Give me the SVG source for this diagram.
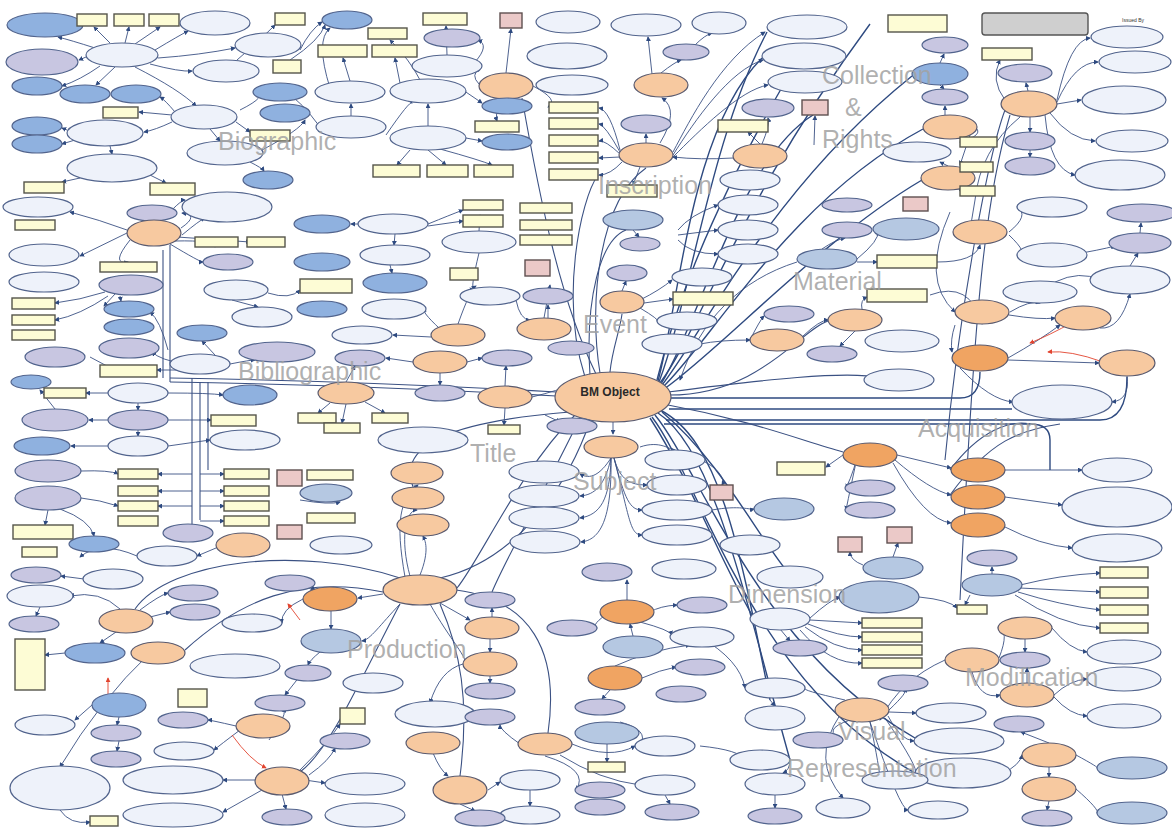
<svg xmlns="http://www.w3.org/2000/svg" width="1172" height="828" viewBox="0 0 1172 828">
<style>
.l{fill:#eef2fa;stroke:#52648d;stroke-width:1.2}
.o{fill:#f7c9a0;stroke:#5a5a6e;stroke-width:1.2}
.od{fill:#f0a462;stroke:#5a5a6e;stroke-width:1.2}
.p{fill:#c8c6e1;stroke:#52648d;stroke-width:1.2}
.b{fill:#8fb1df;stroke:#52648d;stroke-width:1.2}
.bg{fill:#b5c8e2;stroke:#52648d;stroke-width:1.2}
.y{fill:#fdfcd5;stroke:#55554a;stroke-width:1.4}
.k{fill:#ebc9c8;stroke:#5f5050;stroke-width:1.4}
.g{fill:#cfcfcf;stroke:#555;stroke-width:1.4}
.e{fill:none;stroke:#3b5183;stroke-width:0.9;marker-end:url(#a)}
.t{fill:none;stroke:#2e4a80;stroke-width:1.4}
.f{fill:none;stroke:#3b5183;stroke-width:1.1}
.r{fill:none;stroke:#e2442f;stroke-width:0.9;marker-end:url(#ar)}
.s{font-family:"Liberation Sans",Arial,sans-serif;font-size:25px;fill:#a2a2a2;fill-opacity:0.85}
</style>
<defs>
<marker id="a" viewBox="0 0 6 6" refX="5" refY="3" markerWidth="5" markerHeight="5" orient="auto" markerUnits="userSpaceOnUse"><path d="M0,0L6,3L0,6z" fill="#2e4a80"/></marker>
<marker id="ar" viewBox="0 0 6 6" refX="5" refY="3" markerWidth="5" markerHeight="5" orient="auto" markerUnits="userSpaceOnUse"><path d="M0,0L6,3L0,6z" fill="#e2442f"/></marker>
</defs>
<rect width="1172" height="828" fill="#ffffff"/>
<g id="connectors">
<path class="t" d="M660,383 C700,330 740,200 870,24"/>
<path class="t" d="M662,385 C705,330 770,190 912,76"/>
<path class="t" d="M663,387 C712,340 790,200 923,129"/>
<path class="t" d="M661,384 C700,320 740,160 813,115"/>
<path class="t" d="M659,382 C690,300 710,140 767,32"/>
<path class="t" d="M658,381 C680,300 690,130 762,58"/>
<path class="t" d="M657,380 C672,320 700,230 785,82"/>
<path class="t" d="M664,389 C720,350 820,240 922,180"/>
<path class="f" d="M600,373 C588,300 600,200 646,168"/>
<path class="f" d="M596,374 C560,300 540,200 522,98"/>
<path class="f" d="M610,372 C612,350 620,330 622,314"/>
<path class="f" d="M590,375 C585,300 600,240 626,230"/>
<path class="f" d="M585,377 C560,300 580,200 598,175"/>
<path class="f" d="M556,392 C450,386 300,380 170,378"/>
<path class="f" d="M556,396 C450,390 300,384 170,382"/>
<path class="f" d="M170,245 V382"/>
<path class="f" d="M163,250 V378"/>
<path class="f" d="M192,378 V525"/>
<path class="f" d="M200,382 V520"/>
<path class="f" d="M208,382 V470"/>
<path class="t" d="M671,398 H960 Q980,398 980,372"/>
<path class="t" d="M669,409 H1012"/>
<path class="t" d="M666,420 H1100 Q1127,420 1127,377"/>
<path class="t" d="M664,424 H1030 Q1050,424 1050,440 V470"/>
<path class="f" d="M668,405 C750,420 800,440 843,452"/>
<path class="f" d="M668,392 C760,380 850,370 880,378"/>
<path class="f" d="M669,395 C760,395 800,330 828,321"/>
<path class="t" d="M660,410 C720,440 740,550 770,700"/>
<path class="t" d="M658,413 C715,450 745,600 790,760"/>
<path class="t" d="M655,415 C700,470 760,650 915,738"/>
<path class="t" d="M652,417 C700,480 750,680 915,773"/>
<path class="t" d="M650,418 C690,480 720,560 752,615"/>
<path class="t" d="M662,412 C720,460 760,540 790,575"/>
<path class="f" d="M575,415 C520,470 480,560 457,588"/>
<path class="f" d="M580,418 C540,500 505,560 492,592"/>
<path class="f" d="M590,421 C570,480 520,560 440,578"/>
<path class="e" d="M613,422 V434"/>
<path class="f" d="M570,412 C470,420 380,440 420,500"/>
<path class="e" d="M611,458 C600,475 590,480 580,474"/>
<path class="e" d="M611,458 C605,485 595,495 580,496"/>
<path class="e" d="M611,458 C610,500 600,515 580,518"/>
<path class="e" d="M611,458 C612,520 600,540 581,542"/>
<path class="e" d="M614,458 C620,480 630,485 647,485"/>
<path class="e" d="M614,458 C625,500 630,510 642,510"/>
<path class="e" d="M614,458 C630,520 630,535 642,535"/>
<path class="e" d="M640,447 C660,440 670,450 675,450"/>
<path class="e" d="M705,462 C720,470 725,480 722,485"/>
<path class="e" d="M712,510 C740,505 750,510 754,509"/>
<path class="e" d="M95,48 Q70,40 58,37"/>
<path class="e" d="M110,43 L94,27"/>
<path class="e" d="M125,43 L129,27"/>
<path class="e" d="M135,44 L160,27"/>
<path class="e" d="M155,50 Q180,35 188,31"/>
<path class="e" d="M158,58 Q200,55 235,48"/>
<path class="e" d="M150,64 Q180,72 192,71"/>
<path class="e" d="M86,57 L79,60"/>
<path class="e" d="M100,66 Q80,80 62,86"/>
<path class="e" d="M115,67 L96,85"/>
<path class="e" d="M135,67 Q180,90 196,106"/>
<path class="e" d="M175,112 Q165,100 160,97"/>
<path class="e" d="M172,115 L139,112"/>
<path class="e" d="M172,122 Q155,130 144,132"/>
<path class="e" d="M210,129 L220,141"/>
<path class="e" d="M236,122 L250,132"/>
<path class="e" d="M67,130 L62,128"/>
<path class="e" d="M75,140 L62,144"/>
<path class="e" d="M110,146 L112,154"/>
<path class="e" d="M80,178 L62,182"/>
<path class="e" d="M150,175 L166,183"/>
<path class="e" d="M250,162 Q262,168 264,171"/>
<path class="e" d="M262,150 Q300,130 305,120"/>
<path class="e" d="M237,60 Q260,40 275,25"/>
<path class="e" d="M290,60 Q320,40 325,25"/>
<path class="e" d="M300,50 Q310,30 322,22"/>
<path class="e" d="M240,110 Q270,95 254,92"/>
<path class="e" d="M351,116 L351,104"/>
<path class="e" d="M428,126 L428,104"/>
<path class="e" d="M350,81 L343,58"/>
<path class="e" d="M400,83 L395,58"/>
<path class="e" d="M420,80 Q410,60 390,40"/>
<path class="e" d="M410,150 L397,165"/>
<path class="e" d="M428,150 L446,165"/>
<path class="e" d="M440,149 Q480,160 492,165"/>
<path class="e" d="M466,138 L482,141"/>
<path class="e" d="M460,88 L482,103"/>
<path class="e" d="M386,135 Q410,100 412,103"/>
<path class="e" d="M320,127 Q300,100 290,96"/>
<path class="e" d="M330,88 Q315,40 330,28"/>
<path class="e" d="M447,55 L446,26"/>
<path class="e" d="M475,62 Q490,45 478,40"/>
<path class="e" d="M506,73 L511,29"/>
<path class="e" d="M479,84 Q470,75 480,68"/>
<path class="e" d="M500,99 Q495,115 497,121"/>
<path class="e" d="M533,86 Q560,100 548,107"/>
<path class="e" d="M646,143 L646,134"/>
<path class="e" d="M620,150 Q610,110 599,108"/>
<path class="e" d="M620,152 Q605,125 599,124"/>
<path class="e" d="M620,154 Q605,140 599,141"/>
<path class="e" d="M620,157 L599,158"/>
<path class="e" d="M622,162 Q610,175 599,175"/>
<path class="e" d="M640,167 L633,185"/>
<path class="e" d="M660,143 Q680,110 662,98"/>
<path class="e" d="M661,73 Q675,62 681,60"/>
<path class="e" d="M652,74 L648,37"/>
<path class="e" d="M695,45 Q705,35 712,33"/>
<path class="e" d="M673,152 C690,120 720,60 765,32"/>
<path class="e" d="M673,155 C695,120 730,70 763,60"/>
<path class="e" d="M673,157 C700,130 740,90 768,85"/>
<path class="e" d="M760,144 L748,132"/>
<path class="e" d="M762,144 Q770,125 768,118"/>
<path class="e" d="M733,158 Q700,160 673,157"/>
<path class="e" d="M814,145 L815,116"/>
<path class="e" d="M945,115 L945,106"/>
<path class="e" d="M940,63 L944,54"/>
<path class="e" d="M940,85 L944,89"/>
<path class="e" d="M975,127 Q985,135 960,142"/>
<path class="e" d="M970,135 L960,165"/>
<path class="e" d="M960,183 L960,191"/>
<path class="e" d="M948,166 L940,162"/>
<path class="e" d="M1028,91 L1026,83"/>
<path class="e" d="M1057,100 Q1070,40 1090,38"/>
<path class="e" d="M1057,102 Q1075,62 1098,62"/>
<path class="e" d="M1057,104 L1081,100"/>
<path class="e" d="M1050,113 Q1070,140 1095,141"/>
<path class="e" d="M1045,115 Q1050,170 1075,175"/>
<path class="e" d="M1030,117 L1030,132"/>
<path class="e" d="M1030,150 L1030,157"/>
<path class="e" d="M1020,117 Q980,150 975,200 L970,230"/>
<path class="f" d="M1005,110 C990,150 960,300 945,460"/>
<path class="f" d="M1010,115 C985,200 975,300 960,600"/>
<path class="e" d="M1005,100 Q990,80 1000,60"/>
<path class="e" d="M633,230 L639,237"/>
<path class="e" d="M678,230 Q690,215 718,205"/>
<path class="e" d="M678,235 L718,230"/>
<path class="e" d="M678,240 Q690,254 718,254"/>
<path class="e" d="M822,249 Q835,240 845,238"/>
<path class="e" d="M857,259 Q880,240 878,231"/>
<path class="e" d="M857,262 L877,262"/>
<path class="e" d="M937,262 Q975,262 980,245"/>
<path class="e" d="M797,262 C740,280 700,320 680,380"/>
<path class="e" d="M622,291 L626,281"/>
<path class="e" d="M640,300 Q660,290 672,280"/>
<path class="e" d="M644,303 L673,299"/>
<path class="e" d="M640,308 Q660,320 657,321"/>
<path class="e" d="M750,340 Q760,320 764,316"/>
<path class="e" d="M803,336 Q820,320 828,320"/>
<path class="e" d="M862,309 Q860,300 867,297"/>
<path class="e" d="M855,331 L840,346"/>
<path class="e" d="M930,295 Q970,280 982,324"/>
<path class="e" d="M700,344 Q720,340 750,340"/>
<path class="e" d="M1009,232 Q1030,215 1017,207"/>
<path class="e" d="M1009,235 Q1030,255 1017,255"/>
<path class="e" d="M1070,255 Q1100,250 1115,246"/>
<path class="e" d="M1140,233 L1141,223"/>
<path class="e" d="M1130,266 L1138,253"/>
<path class="e" d="M1055,282 Q1080,270 1100,280"/>
<path class="e" d="M1010,312 Q1030,300 1040,303"/>
<path class="e" d="M1009,315 Q1040,320 1055,318"/>
<path class="e" d="M1100,328 Q1120,330 1130,294"/>
<path class="e" d="M1008,358 Q1040,340 1060,325"/>
<path class="e" d="M1008,360 L1099,363"/>
<path class="e" d="M1127,376 Q1130,400 1112,402"/>
<path class="e" d="M960,368 Q990,400 1013,402"/>
<path class="e" d="M955,325 Q950,340 952,352"/>
<path class="e" d="M950,212 Q920,280 955,312"/>
<path class="r" d="M1073,322 Q1050,335 1030,343"/>
<path class="r" d="M1103,362 Q1070,350 1048,352"/>
<path class="e" d="M897,455 L951,468"/>
<path class="e" d="M895,460 Q930,490 951,495"/>
<path class="e" d="M893,463 Q925,520 951,523"/>
<path class="e" d="M1005,470 L1082,470"/>
<path class="e" d="M1005,497 L1062,505"/>
<path class="e" d="M1005,527 Q1040,545 1072,548"/>
<path class="e" d="M860,444 Q855,470 846,488"/>
<path class="e" d="M860,444 Q850,490 846,510"/>
<path class="e" d="M843,455 L826,467"/>
<path class="f" d="M950,470 C980,430 1010,420 1030,424"/>
<path class="f" d="M950,495 C990,440 1020,430 1060,424"/>
<path class="e" d="M992,574 L992,567"/>
<path class="e" d="M1020,585 Q1060,575 1100,573"/>
<path class="e" d="M1020,588 L1100,592"/>
<path class="e" d="M1018,592 Q1060,605 1100,610"/>
<path class="e" d="M1015,595 Q1060,625 1100,628"/>
<path class="e" d="M970,595 L965,605"/>
<path class="e" d="M893,557 L898,543"/>
<path class="e" d="M863,565 Q850,560 850,552"/>
<path class="e" d="M810,618 Q830,600 840,597"/>
<path class="e" d="M810,620 L862,623"/>
<path class="e" d="M808,624 Q840,637 862,637"/>
<path class="e" d="M805,627 Q835,650 862,650"/>
<path class="e" d="M800,630 Q830,665 862,663"/>
<path class="e" d="M780,629 L790,641"/>
<path class="e" d="M919,597 Q950,600 957,608"/>
<path class="e" d="M1025,639 L1025,652"/>
<path class="e" d="M999,658 Q1010,630 998,628"/>
<path class="e" d="M1052,628 Q1070,650 1087,652"/>
<path class="e" d="M1054,695 Q1070,680 1087,679"/>
<path class="e" d="M1054,697 Q1070,715 1087,716"/>
<path class="e" d="M1027,683 L1027,668"/>
<path class="e" d="M972,672 Q980,700 1000,695"/>
<path class="e" d="M945,660 Q900,680 880,720"/>
<path class="e" d="M1049,767 L1049,777"/>
<path class="e" d="M1076,755 Q1100,768 1097,768"/>
<path class="e" d="M1076,789 Q1100,810 1097,813"/>
<path class="e" d="M1049,801 L1047,810"/>
<path class="e" d="M1049,743 L1021,732"/>
<path class="e" d="M1003,773 Q1020,765 1022,755"/>
<path class="e" d="M889,710 Q910,690 903,691"/>
<path class="e" d="M889,712 L916,713"/>
<path class="e" d="M888,716 Q900,740 914,741"/>
<path class="e" d="M885,718 Q920,770 915,773"/>
<path class="e" d="M870,722 Q880,770 880,780"/>
<path class="e" d="M850,720 Q820,730 843,740"/>
<path class="e" d="M840,715 Q810,760 843,798"/>
<path class="e" d="M870,722 Q900,810 908,810"/>
<path class="e" d="M845,700 Q800,690 805,688"/>
<path class="e" d="M770,700 L775,706"/>
<path class="e" d="M790,760 Q790,770 783,773"/>
<path class="e" d="M775,795 L775,808"/>
<path class="f" d="M400,578 C300,545 170,560 135,609"/>
<path class="f" d="M383,592 C300,575 240,600 185,650"/>
<path class="e" d="M383,594 L358,598"/>
<path class="e" d="M400,604 C380,625 370,640 362,641"/>
<path class="f" d="M400,604 C360,680 330,750 300,772"/>
<path class="f" d="M440,604 C460,650 470,700 460,776"/>
<path class="f" d="M456,590 C530,600 560,650 548,733"/>
<path class="e" d="M440,603 L470,620"/>
<path class="e" d="M430,604 C450,640 470,660 464,664"/>
<path class="e" d="M410,576 C400,540 405,510 417,510"/>
<path class="e" d="M405,577 C395,520 400,500 418,485"/>
<path class="e" d="M420,575 C430,550 425,540 423,536"/>
<path class="e" d="M490,639 L490,652"/>
<path class="e" d="M490,676 L490,683"/>
<path class="e" d="M463,664 Q440,670 430,703"/>
<path class="e" d="M492,617 L492,608"/>
<path class="e" d="M650,612 Q660,606 677,605"/>
<path class="e" d="M627,600 L627,580"/>
<path class="e" d="M640,622 Q670,630 672,635"/>
<path class="e" d="M610,612 Q590,625 597,628"/>
<path class="e" d="M633,636 L630,624"/>
<path class="e" d="M642,678 Q660,670 676,667"/>
<path class="e" d="M615,666 Q650,650 690,645"/>
<path class="e" d="M610,690 L602,699"/>
<path class="e" d="M607,744 L607,762"/>
<path class="e" d="M620,722 Q650,730 640,745"/>
<path class="e" d="M572,744 Q610,760 635,746"/>
<path class="e" d="M520,744 Q500,730 500,725"/>
<path class="e" d="M545,756 Q590,770 576,790"/>
<path class="e" d="M560,755 Q600,780 640,785"/>
<path class="e" d="M530,790 L530,806"/>
<path class="e" d="M433,753 Q440,770 448,776"/>
<path class="e" d="M460,804 L475,811"/>
<path class="e" d="M488,790 L500,782"/>
<path class="e" d="M665,795 L670,804"/>
<path class="e" d="M700,746 Q740,750 745,760"/>
<path class="e" d="M700,637 Q740,660 745,688"/>
<path class="e" d="M181,228 Q200,215 182,213"/>
<path class="e" d="M182,235 Q200,220 205,218"/>
<path class="e" d="M127,233 L80,256"/>
<path class="e" d="M130,240 Q110,265 128,262"/>
<path class="e" d="M170,244 Q200,262 203,262"/>
<path class="e" d="M175,241 Q215,240 215,247"/>
<path class="e" d="M177,237 L250,242"/>
<path class="e" d="M127,230 Q100,220 70,212"/>
<path class="e" d="M160,223 Q180,200 185,200"/>
<path class="e" d="M105,292 Q80,300 55,303"/>
<path class="e" d="M108,296 Q80,315 55,320"/>
<path class="e" d="M115,294 L104,306"/>
<path class="e" d="M120,296 L121,301"/>
<path class="e" d="M268,293 Q290,300 300,290"/>
<path class="e" d="M232,300 L258,307"/>
<path class="e" d="M185,364 Q160,360 152,352"/>
<path class="e" d="M178,370 L157,370"/>
<path class="e" d="M230,364 Q250,360 255,360"/>
<path class="e" d="M215,355 L202,341"/>
<path class="e" d="M168,350 Q160,320 150,312"/>
<path class="e" d="M110,393 L86,393"/>
<path class="e" d="M168,393 Q210,393 223,395"/>
<path class="e" d="M138,403 L138,410"/>
<path class="e" d="M168,420 Q190,420 211,420"/>
<path class="e" d="M138,430 L138,436"/>
<path class="e" d="M108,420 L89,420"/>
<path class="e" d="M108,446 L71,446"/>
<path class="e" d="M168,446 L210,440"/>
<path class="e" d="M55,409 L40,390"/>
<path class="e" d="M90,357 L120,373"/>
<path class="e" d="M428,224 Q450,215 463,210"/>
<path class="e" d="M428,226 L463,221"/>
<path class="e" d="M395,234 L394,245"/>
<path class="e" d="M365,224 L351,224"/>
<path class="e" d="M390,265 L392,273"/>
<path class="e" d="M479,253 Q470,290 474,288"/>
<path class="e" d="M479,231 L480,215"/>
<path class="e" d="M516,300 Q520,320 530,320"/>
<path class="e" d="M548,318 L548,305"/>
<path class="e" d="M440,329 Q420,310 426,311"/>
<path class="e" d="M431,337 L393,335"/>
<path class="e" d="M458,324 Q470,290 476,286"/>
<path class="e" d="M440,351 L440,358"/>
<path class="e" d="M467,362 L482,358"/>
<path class="e" d="M413,362 L386,358"/>
<path class="e" d="M346,382 L355,366"/>
<path class="e" d="M440,373 L440,385"/>
<path class="e" d="M505,386 L506,366"/>
<path class="e" d="M330,403 L318,413"/>
<path class="e" d="M346,404 L342,423"/>
<path class="e" d="M365,402 L385,413"/>
<path class="e" d="M505,408 L504,425"/>
<path class="e" d="M532,397 Q560,390 570,385"/>
<path class="e" d="M545,415 L560,422"/>
<path class="e" d="M544,318 L550,285"/>
<path class="e" d="M81,471 Q110,470 118,474"/>
<path class="e" d="M81,498 Q100,500 118,506"/>
<path class="e" d="M192,474 L158,474"/>
<path class="e" d="M192,491 L158,491"/>
<path class="e" d="M192,506 L158,506"/>
<path class="e" d="M200,474 L224,474"/>
<path class="e" d="M200,491 L224,491"/>
<path class="e" d="M200,506 L224,506"/>
<path class="e" d="M200,521 L224,521"/>
<path class="e" d="M48,510 L45,525"/>
<path class="e" d="M60,509 Q90,520 94,536"/>
<path class="e" d="M216,548 L197,556"/>
<path class="e" d="M137,556 Q100,540 80,557"/>
<path class="e" d="M84,579 L61,576"/>
<path class="e" d="M40,607 L36,616"/>
<path class="e" d="M140,610 Q160,595 168,593"/>
<path class="e" d="M150,617 L170,612"/>
<path class="e" d="M120,609 Q100,590 70,596"/>
<path class="e" d="M116,632 L100,643"/>
<path class="e" d="M65,653 L45,655"/>
<path class="e" d="M269,740 Q290,710 282,711"/>
<path class="e" d="M305,583 L315,590"/>
<path class="e" d="M331,611 L331,629"/>
<path class="e" d="M320,652 Q310,660 308,665"/>
<path class="e" d="M300,676 L285,695"/>
<path class="e" d="M303,599 Q280,610 282,623"/>
<path class="e" d="M119,717 L117,725"/>
<path class="e" d="M119,741 L117,751"/>
<path class="e" d="M92,705 L75,720"/>
<path class="e" d="M236,726 Q210,720 208,720"/>
<path class="e" d="M240,730 Q220,745 214,750"/>
<path class="e" d="M255,780 L223,780"/>
<path class="e" d="M262,790 L223,812"/>
<path class="e" d="M282,794 L286,809"/>
<path class="e" d="M60,810 Q70,825 90,822"/>
<path class="e" d="M150,653 Q100,700 60,767"/>
<path class="e" d="M305,780 L325,783"/>
<path class="e" d="M309,775 Q330,760 335,748"/>
<path class="e" d="M300,770 Q330,740 340,724"/>
<path class="e" d="M343,683 L360,690"/>
<path class="e" d="M300,500 Q330,505 340,502"/>
<path class="r" d="M300,620 L288,604"/>
<path class="r" d="M108,700 L108,678"/>
<path class="r" d="M232,735 Q250,760 266,768"/>
</g>

<g id="n0"><ellipse class="o" cx="613" cy="397" rx="58" ry="25"/><text x="610" y="396" font-family="Liberation Sans,Arial,sans-serif" font-size="12" font-weight="bold" text-anchor="middle" fill="#2a2a2a">BM Object</text></g>
<g id="n1"><ellipse class="b" cx="45" cy="25" rx="38" ry="12"/></g>
<g id="n2"><rect class="y" x="77" y="14" width="30" height="12"/></g>
<g id="n3"><rect class="y" x="114" y="14" width="30" height="12"/></g>
<g id="n4"><rect class="y" x="149" y="14" width="30" height="12"/></g>
<g id="n5"><ellipse class="l" cx="215" cy="23" rx="35" ry="12"/></g>
<g id="n6"><ellipse class="l" cx="122" cy="55" rx="36" ry="12"/></g>
<g id="n7"><ellipse class="p" cx="42" cy="62" rx="36" ry="13"/></g>
<g id="n8"><ellipse class="l" cx="268" cy="45" rx="33" ry="12"/></g>
<g id="n9"><ellipse class="l" cx="226" cy="71" rx="33" ry="11"/></g>
<g id="n10"><ellipse class="b" cx="37" cy="86" rx="25" ry="9"/></g>
<g id="n11"><ellipse class="b" cx="85" cy="94" rx="25" ry="9"/></g>
<g id="n12"><ellipse class="b" cx="136" cy="94" rx="25" ry="9"/></g>
<g id="n13"><rect class="y" x="103" y="107" width="35" height="11"/></g>
<g id="n14"><ellipse class="l" cx="204" cy="117" rx="33" ry="12"/></g>
<g id="n15"><ellipse class="b" cx="37" cy="126" rx="25" ry="9"/></g>
<g id="n16"><ellipse class="l" cx="105" cy="133" rx="38" ry="13"/></g>
<g id="n17"><ellipse class="b" cx="37" cy="144" rx="25" ry="9"/></g>
<g id="n18"><ellipse class="l" cx="225" cy="153" rx="38" ry="12"/></g>
<g id="n19"><ellipse class="l" cx="112" cy="168" rx="45" ry="14"/></g>
<g id="n20"><rect class="y" x="250" y="130" width="40" height="11"/></g>
<g id="n21"><ellipse class="b" cx="268" cy="180" rx="25" ry="9"/></g>
<g id="n22"><rect class="y" x="24" y="182" width="40" height="11"/></g>
<g id="n23"><rect class="y" x="150" y="183" width="45" height="12"/></g>
<g id="n24"><rect class="y" x="275" y="13" width="30" height="12"/></g>
<g id="n25"><rect class="y" x="273" y="60" width="28" height="13"/></g>
<g id="n25b"><ellipse class="b" cx="280" cy="92" rx="27" ry="9"/></g>
<g id="n25c"><ellipse class="b" cx="285" cy="113" rx="25" ry="9"/></g>
<g id="n26"><ellipse class="b" cx="347" cy="20" rx="25" ry="9"/></g>
<g id="n27"><rect class="y" x="368" y="28" width="39" height="11"/></g>
<g id="n28"><rect class="y" x="423" y="13" width="44" height="12"/></g>
<g id="n29"><rect class="k" x="500" y="13" width="22" height="15"/></g>
<g id="n30"><ellipse class="p" cx="452" cy="38" rx="28" ry="9"/></g>
<g id="n31"><rect class="y" x="318" y="45" width="49" height="12"/></g>
<g id="n32"><rect class="y" x="372" y="45" width="45" height="12"/></g>
<g id="n33"><ellipse class="l" cx="447" cy="66" rx="35" ry="11"/></g>
<g id="n34"><ellipse class="o" cx="506" cy="86" rx="27" ry="13"/></g>
<g id="n35"><ellipse class="l" cx="350" cy="92" rx="35" ry="11"/></g>
<g id="n36"><ellipse class="l" cx="428" cy="91" rx="38" ry="12"/></g>
<g id="n37"><ellipse class="b" cx="507" cy="106" rx="25" ry="8"/></g>
<g id="n38"><rect class="y" x="475" y="121" width="44" height="11"/></g>
<g id="n39"><ellipse class="l" cx="351" cy="127" rx="35" ry="11"/></g>
<g id="n40"><ellipse class="l" cx="428" cy="138" rx="38" ry="12"/></g>
<g id="n41"><ellipse class="b" cx="507" cy="142" rx="25" ry="8"/></g>
<g id="n42"><rect class="y" x="373" y="165" width="47" height="12"/></g>
<g id="n43"><rect class="y" x="427" y="165" width="41" height="12"/></g>
<g id="n44"><rect class="y" x="474" y="165" width="39" height="12"/></g>
<g id="n45"><rect class="y" x="549" y="102" width="49" height="11"/></g>
<g id="n46"><rect class="y" x="549" y="118" width="49" height="11"/></g>
<g id="n47"><rect class="y" x="549" y="135" width="49" height="11"/></g>
<g id="n48"><rect class="y" x="549" y="152" width="49" height="11"/></g>
<g id="n49"><rect class="y" x="549" y="169" width="49" height="11"/></g>
<g id="n50"><ellipse class="l" cx="568" cy="22" rx="32" ry="11"/></g>
<g id="n51"><ellipse class="l" cx="567" cy="56" rx="40" ry="13"/></g>
<g id="n52"><ellipse class="l" cx="572" cy="85" rx="36" ry="10"/></g>
<g id="n53"><ellipse class="l" cx="646" cy="25" rx="35" ry="11"/></g>
<g id="n54"><ellipse class="l" cx="719" cy="23" rx="27" ry="11"/></g>
<g id="n55"><ellipse class="l" cx="807" cy="27" rx="40" ry="12"/></g>
<g id="n56"><ellipse class="p" cx="686" cy="52" rx="23" ry="8"/></g>
<g id="n57"><ellipse class="o" cx="661" cy="85" rx="27" ry="12"/></g>
<g id="n58"><ellipse class="l" cx="804" cy="56" rx="42" ry="13"/></g>
<g id="n59"><ellipse class="l" cx="805" cy="82" rx="37" ry="11"/></g>
<g id="n60"><rect class="y" x="718" y="120" width="50" height="12"/></g>
<g id="n61"><ellipse class="p" cx="768" cy="108" rx="26" ry="9"/></g>
<g id="n62"><rect class="k" x="802" y="100" width="26" height="15"/></g>
<g id="n63"><ellipse class="p" cx="646" cy="124" rx="25" ry="9"/></g>
<g id="n64"><ellipse class="o" cx="646" cy="155" rx="27" ry="12"/></g>
<g id="n65"><ellipse class="o" cx="760" cy="156" rx="27" ry="12"/></g>
<g id="n66"><ellipse class="l" cx="750" cy="180" rx="30" ry="10"/></g>
<g id="n67"><rect class="y" x="607" y="185" width="50" height="12"/></g>
<g id="n68"><rect class="y" x="520" y="203" width="52" height="10"/></g>
<g id="n69"><rect class="y" x="520" y="220" width="52" height="10"/></g>
<g id="n70"><rect class="y" x="520" y="235" width="52" height="10"/></g>
<g id="n71"><rect class="y" x="463" y="200" width="40" height="10"/></g>
<g id="n72"><rect class="y" x="463" y="215" width="40" height="12"/></g>
<g id="n73"><rect class="y" x="888" y="15" width="59" height="17"/></g>
<g id="n74"><ellipse class="p" cx="945" cy="45" rx="23" ry="8"/></g>
<g id="n75"><ellipse class="b" cx="940" cy="74" rx="28" ry="11"/></g>
<g id="n76"><ellipse class="p" cx="945" cy="97" rx="23" ry="8"/></g>
<g id="n77"><ellipse class="o" cx="950" cy="127" rx="27" ry="12"/></g>
<g id="n78"><ellipse class="l" cx="917" cy="152" rx="34" ry="10"/></g>
<g id="n79"><ellipse class="o" cx="948" cy="178" rx="27" ry="12"/></g>
<g id="n80"><rect class="y" x="960" y="137" width="37" height="10"/></g>
<g id="n81"><rect class="y" x="960" y="162" width="33" height="10"/></g>
<g id="n82"><rect class="y" x="960" y="186" width="35" height="10"/></g>
<g id="n83"><rect class="g" x="982" y="13" width="106" height="22" rx="3"/></g>
<g id="n84"><rect class="y" x="982" y="48" width="50" height="12"/></g>
<g id="n85"><ellipse class="p" cx="1025" cy="73" rx="27" ry="9"/></g>
<g id="n86"><ellipse class="o" cx="1029" cy="104" rx="28" ry="13"/></g>
<g id="n86t"><text x="1133" y="22" font-family="Liberation Sans,Arial,sans-serif" font-size="5" text-anchor="middle" fill="#333">Issued By</text></g>
<g id="n87"><ellipse class="l" cx="1127" cy="37" rx="36" ry="11"/></g>
<g id="n88"><ellipse class="l" cx="1135" cy="62" rx="36" ry="11"/></g>
<g id="n89"><ellipse class="l" cx="1124" cy="100" rx="42" ry="14"/></g>
<g id="n90"><ellipse class="l" cx="1132" cy="141" rx="36" ry="11"/></g>
<g id="n91"><ellipse class="p" cx="1030" cy="141" rx="25" ry="9"/></g>
<g id="n92"><ellipse class="p" cx="1030" cy="166" rx="25" ry="9"/></g>
<g id="n93"><ellipse class="l" cx="1120" cy="175" rx="45" ry="15"/></g>
<g id="n94"><rect class="k" x="903" y="197" width="25" height="14"/></g>
<g id="n95"><ellipse class="bg" cx="906" cy="229" rx="33" ry="11"/></g>
<g id="n96"><ellipse class="l" cx="1052" cy="207" rx="35" ry="10"/></g>
<g id="n97"><ellipse class="p" cx="1142" cy="213" rx="35" ry="9"/></g>
<g id="n98"><ellipse class="o" cx="980" cy="232" rx="27" ry="12"/></g>
<g id="n99"><ellipse class="p" cx="1140" cy="243" rx="31" ry="10"/></g>
<g id="n100"><ellipse class="l" cx="1052" cy="255" rx="35" ry="12"/></g>
<g id="n101"><rect class="y" x="877" y="255" width="60" height="13"/></g>
<g id="n102"><ellipse class="l" cx="1130" cy="280" rx="40" ry="14"/></g>
<g id="n103"><ellipse class="l" cx="1040" cy="292" rx="37" ry="11"/></g>
<g id="n104"><rect class="y" x="867" y="289" width="60" height="13"/></g>
<g id="n105"><ellipse class="o" cx="982" cy="312" rx="27" ry="12"/></g>
<g id="n106"><ellipse class="o" cx="1083" cy="318" rx="28" ry="12"/></g>
<g id="n107"><ellipse class="od" cx="980" cy="358" rx="28" ry="13"/></g>
<g id="n108"><ellipse class="o" cx="1127" cy="363" rx="28" ry="13"/></g>
<g id="n109"><ellipse class="l" cx="1062" cy="402" rx="50" ry="17"/></g>
<g id="n110"><ellipse class="bg" cx="633" cy="220" rx="30" ry="10"/></g>
<g id="n111"><ellipse class="p" cx="640" cy="244" rx="20" ry="7"/></g>
<g id="n112"><ellipse class="l" cx="748" cy="205" rx="30" ry="10"/></g>
<g id="n113"><ellipse class="l" cx="748" cy="230" rx="30" ry="10"/></g>
<g id="n114"><ellipse class="l" cx="748" cy="254" rx="30" ry="10"/></g>
<g id="n115"><ellipse class="p" cx="847" cy="205" rx="25" ry="7"/></g>
<g id="n116"><ellipse class="p" cx="847" cy="230" rx="25" ry="8"/></g>
<g id="n117"><ellipse class="bg" cx="827" cy="259" rx="30" ry="10"/></g>
<g id="n118"><ellipse class="p" cx="627" cy="273" rx="20" ry="8"/></g>
<g id="n119"><ellipse class="l" cx="702" cy="277" rx="30" ry="9"/></g>
<g id="n120"><ellipse class="o" cx="622" cy="302" rx="22" ry="11"/></g>
<g id="n121"><rect class="y" x="673" y="292" width="60" height="13"/></g>
<g id="n122"><ellipse class="l" cx="687" cy="321" rx="30" ry="9"/></g>
<g id="n123"><ellipse class="p" cx="789" cy="314" rx="25" ry="8"/></g>
<g id="n124"><ellipse class="o" cx="855" cy="320" rx="27" ry="11"/></g>
<g id="n125"><ellipse class="o" cx="777" cy="340" rx="27" ry="11"/></g>
<g id="n126"><ellipse class="l" cx="902" cy="341" rx="37" ry="11"/></g>
<g id="n127"><ellipse class="p" cx="832" cy="354" rx="25" ry="8"/></g>
<g id="n128"><ellipse class="l" cx="672" cy="344" rx="30" ry="10"/></g>
<g id="n129"><ellipse class="l" cx="899" cy="380" rx="35" ry="11"/></g>
<g id="n130"><ellipse class="l" cx="38" cy="207" rx="35" ry="10"/></g>
<g id="n131"><ellipse class="p" cx="152" cy="213" rx="25" ry="8"/></g>
<g id="n132"><ellipse class="l" cx="227" cy="207" rx="45" ry="15"/></g>
<g id="n133"><rect class="y" x="15" y="220" width="40" height="10"/></g>
<g id="n134"><ellipse class="o" cx="154" cy="233" rx="27" ry="13"/></g>
<g id="n135"><ellipse class="l" cx="44" cy="255" rx="35" ry="11"/></g>
<g id="n136"><rect class="y" x="195" y="237" width="43" height="10"/></g>
<g id="n137"><rect class="y" x="247" y="237" width="38" height="10"/></g>
<g id="n138"><rect class="y" x="100" y="262" width="57" height="10"/></g>
<g id="n139"><ellipse class="p" cx="228" cy="262" rx="25" ry="8"/></g>
<g id="n140"><ellipse class="l" cx="44" cy="282" rx="35" ry="10"/></g>
<g id="n141"><ellipse class="p" cx="131" cy="285" rx="32" ry="10"/></g>
<g id="n142"><ellipse class="l" cx="236" cy="290" rx="32" ry="10"/></g>
<g id="n143"><rect class="y" x="12" y="298" width="43" height="11"/></g>
<g id="n144"><rect class="y" x="12" y="315" width="43" height="10"/></g>
<g id="n145"><rect class="y" x="12" y="330" width="43" height="10"/></g>
<g id="n146"><ellipse class="b" cx="129" cy="309" rx="25" ry="8"/></g>
<g id="n147"><ellipse class="l" cx="262" cy="317" rx="30" ry="10"/></g>
<g id="n148"><ellipse class="b" cx="129" cy="327" rx="25" ry="8"/></g>
<g id="n149"><ellipse class="b" cx="202" cy="333" rx="25" ry="8"/></g>
<g id="n150"><ellipse class="p" cx="129" cy="348" rx="30" ry="10"/></g>
<g id="n151"><ellipse class="p" cx="277" cy="352" rx="38" ry="10"/></g>
<g id="n152"><ellipse class="p" cx="55" cy="357" rx="30" ry="10"/></g>
<g id="n153"><ellipse class="l" cx="200" cy="364" rx="30" ry="10"/></g>
<g id="n154"><rect class="y" x="100" y="365" width="57" height="12"/></g>
<g id="n155"><ellipse class="b" cx="31" cy="382" rx="20" ry="7"/></g>
<g id="n156"><ellipse class="l" cx="138" cy="393" rx="30" ry="10"/></g>
<g id="n157"><ellipse class="b" cx="250" cy="395" rx="27" ry="10"/></g>
<g id="n158"><rect class="y" x="44" y="388" width="42" height="10"/></g>
<g id="n159"><ellipse class="p" cx="138" cy="420" rx="30" ry="10"/></g>
<g id="n160"><rect class="y" x="211" y="415" width="45" height="11"/></g>
<g id="n161"><ellipse class="l" cx="138" cy="446" rx="30" ry="10"/></g>
<g id="n162"><ellipse class="b" cx="42" cy="446" rx="28" ry="9"/></g>
<g id="n163"><ellipse class="p" cx="55" cy="420" rx="33" ry="11"/></g>
<g id="n164"><ellipse class="l" cx="245" cy="440" rx="35" ry="10"/></g>
<g id="n165"><ellipse class="l" cx="393" cy="224" rx="35" ry="10"/></g>
<g id="n166"><ellipse class="b" cx="322" cy="224" rx="28" ry="9"/></g>
<g id="n167"><ellipse class="l" cx="395" cy="255" rx="35" ry="10"/></g>
<g id="n168"><ellipse class="l" cx="479" cy="242" rx="37" ry="11"/></g>
<g id="n169"><ellipse class="b" cx="322" cy="262" rx="28" ry="9"/></g>
<g id="n170"><rect class="y" x="300" y="279" width="52" height="14"/></g>
<g id="n171"><ellipse class="b" cx="395" cy="283" rx="32" ry="10"/></g>
<g id="n172"><rect class="y" x="450" y="268" width="28" height="12"/></g>
<g id="n173"><rect class="k" x="525" y="260" width="25" height="16"/></g>
<g id="n174"><ellipse class="l" cx="490" cy="296" rx="30" ry="9"/></g>
<g id="n175"><ellipse class="p" cx="548" cy="296" rx="25" ry="8"/></g>
<g id="n176"><ellipse class="l" cx="394" cy="309" rx="32" ry="10"/></g>
<g id="n177"><ellipse class="b" cx="322" cy="309" rx="25" ry="8"/></g>
<g id="n178"><ellipse class="o" cx="458" cy="335" rx="27" ry="11"/></g>
<g id="n179"><ellipse class="o" cx="544" cy="329" rx="27" ry="11"/></g>
<g id="n180"><ellipse class="l" cx="362" cy="335" rx="30" ry="9"/></g>
<g id="n181"><ellipse class="p" cx="571" cy="348" rx="23" ry="7"/></g>
<g id="n182"><ellipse class="p" cx="360" cy="358" rx="25" ry="8"/></g>
<g id="n183"><ellipse class="o" cx="440" cy="362" rx="27" ry="11"/></g>
<g id="n184"><ellipse class="p" cx="507" cy="358" rx="25" ry="8"/></g>
<g id="n185"><ellipse class="o" cx="346" cy="393" rx="28" ry="11"/></g>
<g id="n186"><ellipse class="p" cx="440" cy="393" rx="25" ry="8"/></g>
<g id="n187"><ellipse class="o" cx="505" cy="397" rx="27" ry="11"/></g>
<g id="n188"><rect class="y" x="298" y="413" width="38" height="10"/></g>
<g id="n189"><rect class="y" x="324" y="423" width="36" height="10"/></g>
<g id="n190"><rect class="y" x="372" y="413" width="36" height="10"/></g>
<g id="n191"><rect class="y" x="488" y="425" width="32" height="9"/></g>
<g id="n192"><ellipse class="p" cx="572" cy="426" rx="25" ry="8"/></g>
<g id="n193"><ellipse class="l" cx="423" cy="440" rx="45" ry="13"/></g>
<g id="n194"><ellipse class="p" cx="48" cy="471" rx="33" ry="11"/></g>
<g id="n195"><ellipse class="p" cx="48" cy="498" rx="33" ry="12"/></g>
<g id="n196"><rect class="y" x="118" y="469" width="40" height="10"/></g>
<g id="n197"><rect class="y" x="118" y="486" width="40" height="10"/></g>
<g id="n198"><rect class="y" x="118" y="501" width="40" height="10"/></g>
<g id="n199"><rect class="y" x="118" y="516" width="40" height="10"/></g>
<g id="n200"><rect class="y" x="224" y="469" width="45" height="10"/></g>
<g id="n201"><rect class="y" x="224" y="486" width="45" height="10"/></g>
<g id="n202"><rect class="y" x="224" y="501" width="45" height="10"/></g>
<g id="n203"><rect class="y" x="224" y="516" width="45" height="10"/></g>
<g id="n204"><rect class="y" x="13" y="525" width="60" height="14"/></g>
<g id="n205"><ellipse class="b" cx="94" cy="544" rx="25" ry="8"/></g>
<g id="n206"><ellipse class="p" cx="188" cy="533" rx="25" ry="9"/></g>
<g id="n207"><ellipse class="o" cx="243" cy="545" rx="27" ry="12"/></g>
<g id="n208"><ellipse class="l" cx="167" cy="556" rx="30" ry="10"/></g>
<g id="n209"><rect class="y" x="22" y="547" width="35" height="10"/></g>
<g id="n210"><ellipse class="p" cx="36" cy="575" rx="25" ry="8"/></g>
<g id="n211"><ellipse class="l" cx="113" cy="579" rx="30" ry="10"/></g>
<g id="n212"><ellipse class="l" cx="40" cy="596" rx="33" ry="11"/></g>
<g id="n213"><ellipse class="p" cx="193" cy="593" rx="25" ry="8"/></g>
<g id="n214"><ellipse class="o" cx="126" cy="621" rx="27" ry="12"/></g>
<g id="n215"><ellipse class="p" cx="195" cy="612" rx="25" ry="8"/></g>
<g id="n216"><ellipse class="p" cx="34" cy="624" rx="25" ry="8"/></g>
<g id="n217"><rect class="y" x="15" y="639" width="30" height="51"/></g>
<g id="n218"><ellipse class="b" cx="95" cy="653" rx="30" ry="10"/></g>
<g id="n219"><ellipse class="o" cx="158" cy="653" rx="27" ry="11"/></g>
<g id="n220"><ellipse class="l" cx="235" cy="666" rx="45" ry="12"/></g>
<g id="n221"><ellipse class="l" cx="252" cy="623" rx="30" ry="9"/></g>
<g id="n222"><ellipse class="od" cx="330" cy="599" rx="27" ry="12"/></g>
<g id="n223"><ellipse class="p" cx="290" cy="583" rx="25" ry="8"/></g>
<g id="n224"><ellipse class="bg" cx="331" cy="641" rx="30" ry="12"/></g>
<g id="n225"><ellipse class="p" cx="308" cy="673" rx="23" ry="8"/></g>
<g id="n226"><ellipse class="p" cx="280" cy="703" rx="25" ry="8"/></g>
<g id="n227"><rect class="y" x="178" y="689" width="29" height="18"/></g>
<g id="n228"><ellipse class="b" cx="119" cy="705" rx="27" ry="12"/></g>
<g id="n229"><ellipse class="l" cx="45" cy="725" rx="30" ry="10"/></g>
<g id="n230"><ellipse class="p" cx="116" cy="733" rx="25" ry="8"/></g>
<g id="n231"><ellipse class="p" cx="116" cy="759" rx="25" ry="8"/></g>
<g id="n232"><ellipse class="o" cx="263" cy="726" rx="27" ry="12"/></g>
<g id="n233"><ellipse class="p" cx="183" cy="720" rx="25" ry="8"/></g>
<g id="n234"><ellipse class="l" cx="184" cy="751" rx="30" ry="9"/></g>
<g id="n235"><ellipse class="l" cx="60" cy="788" rx="50" ry="22"/></g>
<g id="n236"><ellipse class="l" cx="173" cy="780" rx="50" ry="14"/></g>
<g id="n237"><ellipse class="l" cx="173" cy="815" rx="50" ry="12"/></g>
<g id="n238"><ellipse class="o" cx="282" cy="781" rx="27" ry="14"/></g>
<g id="n239"><ellipse class="p" cx="287" cy="817" rx="25" ry="8"/></g>
<g id="n240"><rect class="y" x="90" y="816" width="28" height="10"/></g>
<g id="n241"><rect class="y" x="340" y="708" width="25" height="16"/></g>
<g id="n242"><ellipse class="p" cx="345" cy="741" rx="25" ry="8"/></g>
<g id="n243"><ellipse class="l" cx="365" cy="784" rx="40" ry="11"/></g>
<g id="n244"><ellipse class="l" cx="365" cy="815" rx="40" ry="12"/></g>
<g id="n245"><ellipse class="l" cx="373" cy="683" rx="30" ry="10"/></g>
<g id="n246"><rect class="k" x="277" y="470" width="25" height="16"/></g>
<g id="n247"><rect class="y" x="307" y="470" width="46" height="10"/></g>
<g id="n248"><ellipse class="bg" cx="326" cy="493" rx="26" ry="9"/></g>
<g id="n249"><rect class="y" x="307" y="513" width="48" height="10"/></g>
<g id="n250"><ellipse class="l" cx="341" cy="545" rx="31" ry="9"/></g>
<g id="n251"><rect class="k" x="277" y="525" width="25" height="14"/></g>
<g id="n252"><ellipse class="o" cx="611" cy="447" rx="27" ry="11"/></g>
<g id="n253"><ellipse class="l" cx="675" cy="460" rx="30" ry="10"/></g>
<g id="n254"><rect class="y" x="777" y="462" width="48" height="13"/></g>
<g id="n255"><ellipse class="o" cx="417" cy="473" rx="26" ry="11"/></g>
<g id="n256"><ellipse class="o" cx="418" cy="498" rx="26" ry="11"/></g>
<g id="n257"><ellipse class="o" cx="423" cy="525" rx="26" ry="11"/></g>
<g id="n258"><ellipse class="l" cx="544" cy="472" rx="35" ry="11"/></g>
<g id="n259"><ellipse class="l" cx="544" cy="496" rx="35" ry="11"/></g>
<g id="n260"><ellipse class="l" cx="544" cy="518" rx="35" ry="11"/></g>
<g id="n261"><ellipse class="l" cx="545" cy="542" rx="35" ry="11"/></g>
<g id="n262"><ellipse class="l" cx="677" cy="485" rx="30" ry="10"/></g>
<g id="n263"><rect class="k" x="710" y="485" width="23" height="15"/></g>
<g id="n264"><ellipse class="l" cx="677" cy="510" rx="35" ry="10"/></g>
<g id="n265"><ellipse class="l" cx="677" cy="535" rx="35" ry="10"/></g>
<g id="n266"><ellipse class="bg" cx="784" cy="509" rx="30" ry="11"/></g>
<g id="n266b"><ellipse class="l" cx="750" cy="545" rx="30" ry="10"/></g>
<g id="n267"><ellipse class="p" cx="607" cy="572" rx="25" ry="9"/></g>
<g id="n268"><ellipse class="l" cx="684" cy="569" rx="32" ry="10"/></g>
<g id="n269"><ellipse class="l" cx="790" cy="577" rx="33" ry="11"/></g>
<g id="n270"><ellipse class="o" cx="420" cy="590" rx="37" ry="15"/></g>
<g id="n271"><ellipse class="p" cx="490" cy="600" rx="25" ry="8"/></g>
<g id="n272"><ellipse class="od" cx="627" cy="612" rx="27" ry="12"/></g>
<g id="n273"><ellipse class="p" cx="702" cy="605" rx="25" ry="8"/></g>
<g id="n274"><ellipse class="p" cx="572" cy="628" rx="25" ry="8"/></g>
<g id="n275"><ellipse class="o" cx="492" cy="628" rx="27" ry="11"/></g>
<g id="n276"><ellipse class="l" cx="702" cy="637" rx="32" ry="10"/></g>
<g id="n277"><ellipse class="bg" cx="633" cy="647" rx="30" ry="11"/></g>
<g id="n278"><ellipse class="p" cx="700" cy="667" rx="25" ry="8"/></g>
<g id="n279"><ellipse class="o" cx="490" cy="664" rx="27" ry="12"/></g>
<g id="n280"><ellipse class="od" cx="615" cy="678" rx="27" ry="12"/></g>
<g id="n281"><ellipse class="p" cx="490" cy="691" rx="25" ry="8"/></g>
<g id="n282"><ellipse class="p" cx="681" cy="694" rx="25" ry="8"/></g>
<g id="n283"><ellipse class="l" cx="435" cy="714" rx="40" ry="13"/></g>
<g id="n284"><ellipse class="p" cx="490" cy="717" rx="25" ry="8"/></g>
<g id="n285"><ellipse class="p" cx="600" cy="707" rx="25" ry="8"/></g>
<g id="n286"><ellipse class="bg" cx="607" cy="733" rx="32" ry="11"/></g>
<g id="n287"><ellipse class="l" cx="665" cy="746" rx="30" ry="10"/></g>
<g id="n288"><ellipse class="o" cx="545" cy="744" rx="27" ry="11"/></g>
<g id="n289"><ellipse class="o" cx="433" cy="743" rx="27" ry="11"/></g>
<g id="n290"><rect class="y" x="588" y="762" width="37" height="10"/></g>
<g id="n291"><ellipse class="l" cx="530" cy="780" rx="30" ry="10"/></g>
<g id="n292"><ellipse class="o" cx="460" cy="790" rx="27" ry="14"/></g>
<g id="n293"><ellipse class="p" cx="600" cy="790" rx="25" ry="8"/></g>
<g id="n294"><ellipse class="p" cx="600" cy="807" rx="25" ry="8"/></g>
<g id="n295"><ellipse class="l" cx="665" cy="785" rx="30" ry="10"/></g>
<g id="n296"><ellipse class="p" cx="672" cy="812" rx="27" ry="8"/></g>
<g id="n297"><ellipse class="l" cx="530" cy="815" rx="30" ry="9"/></g>
<g id="n298"><ellipse class="p" cx="480" cy="818" rx="25" ry="8"/></g>
<g id="n299"><ellipse class="l" cx="775" cy="688" rx="30" ry="10"/></g>
<g id="n300"><ellipse class="l" cx="775" cy="718" rx="30" ry="12"/></g>
<g id="n301"><ellipse class="l" cx="760" cy="760" rx="30" ry="10"/></g>
<g id="n302"><ellipse class="l" cx="775" cy="784" rx="30" ry="11"/></g>
<g id="n303"><ellipse class="p" cx="775" cy="816" rx="27" ry="8"/></g>
<g id="n304"><ellipse class="od" cx="870" cy="455" rx="27" ry="12"/></g>
<g id="n305"><ellipse class="p" cx="870" cy="488" rx="25" ry="8"/></g>
<g id="n306"><ellipse class="p" cx="870" cy="510" rx="25" ry="8"/></g>
<g id="n307"><ellipse class="od" cx="978" cy="470" rx="27" ry="12"/></g>
<g id="n308"><ellipse class="od" cx="978" cy="497" rx="27" ry="12"/></g>
<g id="n309"><ellipse class="od" cx="978" cy="525" rx="27" ry="12"/></g>
<g id="n310"><ellipse class="l" cx="1117" cy="470" rx="35" ry="12"/></g>
<g id="n311"><ellipse class="l" cx="1117" cy="507" rx="55" ry="20"/></g>
<g id="n312"><ellipse class="l" cx="1117" cy="548" rx="45" ry="14"/></g>
<g id="n313"><rect class="k" x="887" y="527" width="25" height="16"/></g>
<g id="n314"><rect class="k" x="838" y="537" width="24" height="15"/></g>
<g id="n315"><ellipse class="bg" cx="893" cy="568" rx="30" ry="11"/></g>
<g id="n316"><ellipse class="bg" cx="879" cy="597" rx="40" ry="16"/></g>
<g id="n317"><ellipse class="p" cx="992" cy="558" rx="25" ry="8"/></g>
<g id="n318"><ellipse class="bg" cx="992" cy="585" rx="30" ry="11"/></g>
<g id="n319"><rect class="y" x="1100" y="567" width="48" height="11"/></g>
<g id="n320"><rect class="y" x="1100" y="587" width="48" height="11"/></g>
<g id="n321"><rect class="y" x="1100" y="605" width="48" height="10"/></g>
<g id="n322"><rect class="y" x="1100" y="623" width="48" height="10"/></g>
<g id="n323"><rect class="y" x="957" y="605" width="30" height="9"/></g>
<g id="n324"><ellipse class="l" cx="780" cy="619" rx="30" ry="11"/></g>
<g id="n325"><rect class="y" x="862" y="618" width="60" height="10"/></g>
<g id="n326"><rect class="y" x="862" y="632" width="60" height="10"/></g>
<g id="n327"><rect class="y" x="862" y="645" width="60" height="10"/></g>
<g id="n328"><rect class="y" x="862" y="658" width="60" height="10"/></g>
<g id="n329"><ellipse class="p" cx="800" cy="648" rx="27" ry="8"/></g>
<g id="n330"><ellipse class="o" cx="1025" cy="628" rx="27" ry="11"/></g>
<g id="n331"><ellipse class="p" cx="1025" cy="660" rx="25" ry="8"/></g>
<g id="n332"><ellipse class="o" cx="972" cy="660" rx="27" ry="12"/></g>
<g id="n333"><ellipse class="l" cx="1124" cy="652" rx="37" ry="12"/></g>
<g id="n334"><ellipse class="l" cx="1124" cy="679" rx="37" ry="12"/></g>
<g id="n335"><ellipse class="o" cx="1027" cy="695" rx="27" ry="12"/></g>
<g id="n336"><ellipse class="l" cx="1124" cy="716" rx="37" ry="12"/></g>
<g id="n337"><ellipse class="p" cx="903" cy="683" rx="25" ry="8"/></g>
<g id="n338"><ellipse class="o" cx="862" cy="710" rx="27" ry="12"/></g>
<g id="n339"><ellipse class="l" cx="951" cy="713" rx="35" ry="10"/></g>
<g id="n340"><ellipse class="p" cx="1019" cy="724" rx="25" ry="8"/></g>
<g id="n341"><ellipse class="l" cx="959" cy="741" rx="45" ry="13"/></g>
<g id="n342"><ellipse class="p" cx="818" cy="740" rx="25" ry="8"/></g>
<g id="n343"><ellipse class="o" cx="1049" cy="755" rx="27" ry="12"/></g>
<g id="n344"><ellipse class="l" cx="963" cy="773" rx="48" ry="15"/></g>
<g id="n345"><ellipse class="l" cx="895" cy="780" rx="33" ry="9"/></g>
<g id="n346"><ellipse class="bg" cx="1132" cy="768" rx="35" ry="11"/></g>
<g id="n347"><ellipse class="o" cx="1049" cy="789" rx="27" ry="12"/></g>
<g id="n348"><ellipse class="l" cx="843" cy="808" rx="27" ry="10"/></g>
<g id="n349"><ellipse class="l" cx="938" cy="810" rx="30" ry="9"/></g>
<g id="n350"><ellipse class="p" cx="1047" cy="818" rx="25" ry="8"/></g>
<g id="n351"><ellipse class="bg" cx="1132" cy="813" rx="35" ry="11"/></g>

<g id="sections">
<text class="s" x="218" y="150">Biographic</text>
<text class="s" x="238" y="380">Bibliographic</text>
<text class="s" x="598" y="194">Inscription</text>
<text class="s" x="822" y="84">Collection</text>
<text class="s" x="845" y="116">&amp;</text>
<text class="s" x="822" y="148">Rights</text>
<text class="s" x="793" y="290">Material</text>
<text class="s" x="583" y="333">Event</text>
<text class="s" x="470" y="462">Title</text>
<text class="s" x="573" y="490">Subject</text>
<text class="s" x="918" y="437">Acquisition</text>
<text class="s" x="728" y="603">Dimension</text>
<text class="s" x="965" y="686">Modification</text>
<text class="s" x="347" y="658">Production</text>
<text class="s" x="838" y="740">Visual</text>
<text class="s" x="787" y="777">Representation</text>
</g>
</svg>
